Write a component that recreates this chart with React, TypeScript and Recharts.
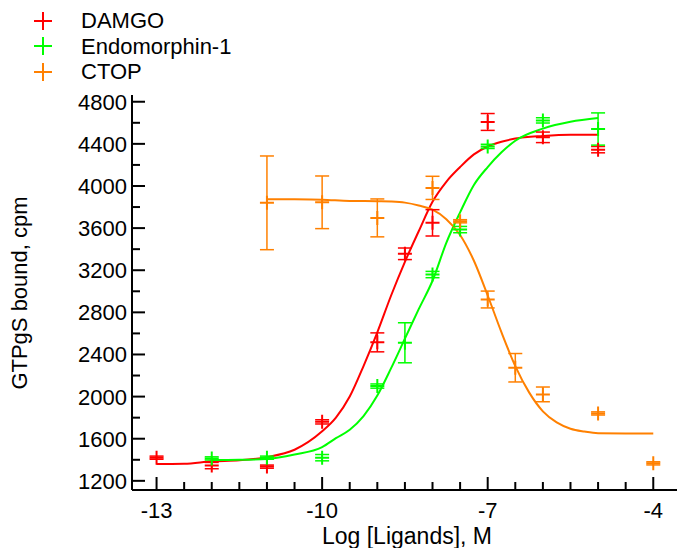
import React from 'react';
import { ComposedChart, Line, Scatter, ErrorBar, XAxis, YAxis, Legend } from 'recharts';

const FONT = '"Liberation Sans", Arial, Helvetica, sans-serif';

// Series names and colours
const seriesNames = ['DAMGO', 'Endomorphin-1', 'CTOP'];
const seriesColors = ['#ff0000', '#00ff00', '#ff8000'];

// Measured points (log M, cpm, error)
const damgoX = [-13, -12, -11, -10, -9, -8.5, -8, -7, -6, -5];
const damgoY = [1420, 1345, 1335, 1760, 2515, 3356, 3650, 4608, 4462, 4345];
const damgoErr = [15, 30, 15, 20, 90, 55, 125, 80, 50, 30];

const endoX = [-12, -11, -10, -9, -8.5, -8, -7.5, -7, -6, -5];
const endoY = [1413, 1420, 1420, 2100, 2511, 3159, 3586, 4376, 4623, 4541];
const endoErr = [15, 15, 30, 20, 190, 30, 30, 20, 25, 153];

const ctopX = [-11, -10, -9, -8, -7.5, -7, -6.5, -6, -5, -4];
const ctopY = [3840, 3845, 3697, 3982, 3665, 2922, 2274, 2021, 1840, 1366];
const ctopErr = [445, 250, 180, 110, 15, 80, 135, 70, 15, 15];

// Fitted curves
const damgoFitX = [-13, -12.5, -12, -11.5, -11, -10.5, -10, -9.75, -9.5, -9.25, -9, -8.75, -8.5, -8.25, -8, -7.75, -7.5, -7.25, -7, -6.75, -6.5, -6, -5.5, -5];
const damgoFitY = [1360, 1362, 1385, 1395, 1425, 1495, 1670, 1800, 2000, 2290, 2610, 2960, 3280, 3570, 3850, 4040, 4180, 4300, 4375, 4420, 4450, 4475, 4487, 4487];

const endoFitX = [-12, -11.5, -11, -10.5, -10, -9.75, -9.5, -9.25, -9, -8.75, -8.5, -8.25, -8, -7.75, -7.5, -7.25, -7, -6.75, -6.5, -6, -5.5, -5];
const endoFitY = [1398, 1400, 1408, 1450, 1520, 1605, 1685, 1815, 2010, 2270, 2550, 2830, 3100, 3460, 3750, 4010, 4180, 4320, 4430, 4545, 4610, 4645];

const ctopFitX = [-11, -10.5, -10, -9.5, -9, -8.75, -8.5, -8.25, -8, -7.75, -7.5, -7.25, -7, -6.75, -6.5, -6.25, -6, -5.75, -5.5, -5.25, -5, -4.5, -4];
const ctopFitY = [3875, 3874, 3870, 3858, 3855, 3852, 3842, 3815, 3775, 3685, 3535, 3290, 2960, 2610, 2290, 2040, 1860, 1755, 1695, 1668, 1652, 1650, 1650];

// Axis ticks
const xTicks = [-13, -12.5, -12, -11.5, -11, -10.5, -10, -9.5, -9, -8.5, -8, -7.5, -7, -6.5, -6, -5.5, -5, -4.5, -4];
const xTickLabels = [-13, -10, -7, -4];
const yTicks = [1200, 1400, 1600, 1800, 2000, 2200, 2400, 2600, 2800, 3000, 3200, 3400, 3600, 3800, 4000, 4200, 4400, 4600, 4800];
const yTickLabels = [1200, 1600, 2000, 2400, 2800, 3200, 3600, 4000, 4400, 4800];

const xTitle = 'Log [Ligands], M';
const yTitle = 'GTPgS bound, cpm';

const toPoints = (xs: number[], ys: number[], es?: number[]) =>
  xs.map((x, i) => ({ x, y: ys[i], err: es ? es[i] : 0 }));

const pointSets = [
  toPoints(damgoX, damgoY, damgoErr),
  toPoints(endoX, endoY, endoErr),
  toPoints(ctopX, ctopY, ctopErr),
];
const fitSets = [
  toPoints(damgoFitX, damgoFitY),
  toPoints(endoFitX, endoFitY),
  toPoints(ctopFitX, ctopFitY),
];

const makeCross = (color: string) => (props: any) => {
  const { cx, cy } = props;
  if (cx == null || cy == null) return <g />;
  return (
    <path
      d={`M${cx - 7},${cy}H${cx + 7}M${cx},${cy - 7}V${cy + 7}`}
      stroke={color}
      strokeWidth={2}
      fill="none"
    />
  );
};

const XTick = (props: any) => {
  const { x, y, payload } = props;
  const major = xTickLabels.includes(payload.value);
  return (
    <g>
      <line x1={x} x2={x} y1={y} y2={y - (major ? 13 : 8)} stroke="#000" strokeWidth={2} />
      {major && (
        <text x={x} y={y + 28} textAnchor="middle" fontSize={22} fontFamily={FONT} fill="#000">
          {payload.value}
        </text>
      )}
    </g>
  );
};

const YTick = (props: any) => {
  const { x, y, payload } = props;
  const major = yTickLabels.includes(payload.value);
  return (
    <g>
      <line x1={x} x2={x + (major ? 13 : 8)} y1={y} y2={y} stroke="#000" strokeWidth={2} />
      {major && (
        <text x={x - 5} y={y + 8} textAnchor="end" fontSize={22} fontFamily={FONT} fill="#000">
          {payload.value}
        </text>
      )}
    </g>
  );
};

const renderLegend = () => (
  <div style={{ fontFamily: FONT, fontSize: 22, color: '#000' }}>
    {seriesNames.map((n, i) => (
      <div key={n} style={{ display: 'flex', alignItems: 'center', height: 25.5, lineHeight: '25.5px' }}>
        <svg width={18} height={18} style={{ marginLeft: 34, marginRight: 29, display: 'block' }}>
          <path d="M0,9H18M9,0V18" stroke={seriesColors[i]} strokeWidth={2} fill="none" />
        </svg>
        <span>{n}</span>
      </div>
    ))}
  </div>
);

export default function App() {
  return (
    <div style={{ position: 'absolute', left: 0, top: 0, width: 677, height: 548, background: '#fff' }}>
      <ComposedChart
        width={677}
        height={548}
        margin={{ top: 95, right: 0, bottom: 7, left: 72 }}
      >
        <XAxis
          type="number"
          dataKey="x"
          domain={[-13.445, -3.57]}
          allowDataOverflow
          ticks={xTicks}
          interval={0}
          tickSize={0}
          tickMargin={0}
          tickLine={false}
          tick={<XTick />}
          axisLine={{ stroke: '#000', strokeWidth: 2 }}
          height={51}
          label={() => (
            <text x={407} y={544} textAnchor="middle" fontSize={23} fontFamily={FONT} fill="#000">
              {xTitle}
            </text>
          )}
        />
        <YAxis
          type="number"
          dataKey="y"
          domain={[1113, 4864]}
          allowDataOverflow
          ticks={yTicks}
          interval={0}
          tickSize={0}
          tickMargin={0}
          tickLine={false}
          tick={<YTick />}
          axisLine={{ stroke: '#000', strokeWidth: 2 }}
          width={60}
          label={() => (
            <text
              transform="translate(27, 293) rotate(-90)"
              textAnchor="middle"
              fontSize={22}
              fontFamily={FONT}
              fill="#000"
            >
              {yTitle}
            </text>
          )}
        />
        <Legend
          layout="horizontal"
          verticalAlign="middle"
          align="center"
          content={renderLegend}
          wrapperStyle={{ top: 8, left: 0, width: 320 }}
        />
        {fitSets.map((d, i) => (
          <Line
            key={`fit-${i}`}
            data={d}
            dataKey="y"
            type="monotone"
            stroke={seriesColors[i]}
            strokeWidth={2}
            dot={false}
            activeDot={false}
            isAnimationActive={false}
            legendType="none"
          />
        ))}
        {pointSets.map((d, i) => (
          <Scatter
            key={`pts-${i}`}
            name={seriesNames[i]}
            data={d}
            dataKey="y"
            fill={seriesColors[i]}
            shape={makeCross(seriesColors[i])}
            isAnimationActive={false}
          >
            <ErrorBar
              dataKey="err"
              direction="y"
              width={7}
              stroke={seriesColors[i]}
              strokeWidth={1.5}
              isAnimationActive={false}
            />
          </Scatter>
        ))}
      </ComposedChart>
    </div>
  );
}
